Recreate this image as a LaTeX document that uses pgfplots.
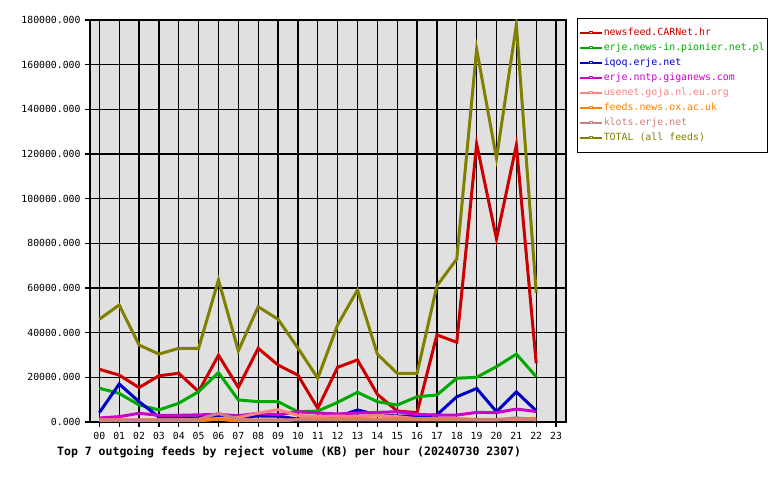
\documentclass[border=0pt]{standalone}
\usepackage{pgfplots}
\pgfplotsset{compat=1.18}
\usepackage{fontspec}
\setmainfont{DejaVu Sans Mono}
\definecolor{cRed}{RGB}{204,0,0}
\definecolor{cGreen}{RGB}{0,170,0}
\definecolor{cBlue}{RGB}{0,0,204}
\definecolor{cMag}{RGB}{204,0,204}
\definecolor{cSalmon}{RGB}{255,128,128}
\definecolor{cOrange}{RGB}{255,128,0}
\definecolor{cKlots}{RGB}{200,128,128}
\definecolor{cOlive}{RGB}{128,128,0}
\definecolor{cBg}{RGB}{224,224,224}
\begin{document}
\begin{tikzpicture}
\useasboundingbox (0,0) rectangle (780bp,480bp);
\begin{axis}[
  at={(90bp,58bp)}, anchor=south west,
  scale only axis, width=476bp, height=402bp,
  xmin=-0.47, xmax=23.5, ymin=0, ymax=180000,
  axis background/.style={fill=cBg},
  axis line style={line width=1.5bp},
  xtick={0,...,23},
  xticklabels={00,01,02,03,04,05,06,07,08,09,10,11,12,13,14,15,16,17,18,19,20,21,22,23},
  ytick={0,20000,...,180000},
  scaled y ticks=false,
  /pgf/number format/fixed, /pgf/number format/fixed zerofill,
  /pgf/number format/precision=3, /pgf/number format/1000 sep={},
  /pgf/number format/assume math mode=true,
  tick label style={font=\fontsize{9.8bp}{11bp}\selectfont},
  tick align=outside, major tick length=5bp,
  tick style={line width=1.2bp, black},
  xtick pos=bottom, ytick pos=left,
  grid=major, grid style={line width=1.3bp, black},
  xticklabel style={yshift=-2bp},
  yticklabel style={xshift=-1bp},
  legend cell align=left,
  legend style={at={(1.023,1.005)}, anchor=north west, draw=black, line width=1.2bp,
    font=\fontsize{9.9bp}{11bp}\selectfont, inner xsep=2bp, inner ysep=7bp,
    nodes={inner sep=1bp, text height=9bp, text depth=4bp}, row sep=0bp},
  legend image code/.code={\draw[#1, line width=1.2bp] (0bp,0bp) -- (22bp,0bp);
    \draw[#1, line width=0.8bp, fill=white] (9.5bp,-0.5bp) rectangle (12.5bp,2bp);},
  every axis plot/.append style={line width=3bp, mark=none},
]
\addplot[cRed] coordinates {(0,23600)(1,21000)(2,15400)(3,20700)(4,21800)(5,13600)(6,29900)(7,15500)(8,33000)(9,25500)(10,21000)(11,6100)(12,24500)(13,27800)(14,12400)(15,4900)(16,4200)(17,39000)(18,35700)(19,124500)(20,82000)(21,124000)(22,26300)};
\addlegendentry{\textcolor{cRed}{newsfeed.CARNet.hr}}
\addplot[cGreen] coordinates {(0,15100)(1,12800)(2,7600)(3,5400)(4,8400)(5,13600)(6,22100)(7,9900)(8,9100)(9,9100)(10,4600)(11,4900)(12,8800)(13,13300)(14,9100)(15,7600)(16,11300)(17,12100)(18,19600)(19,20000)(20,24800)(21,30400)(22,20300)};
\addlegendentry{\textcolor{cGreen}{erje.news-in.pionier.net.pl}}
\addplot[cBlue] coordinates {(0,4200)(1,17000)(2,9100)(3,2200)(4,1900)(5,1900)(6,2000)(7,2000)(8,2700)(9,2600)(10,1300)(11,1300)(12,2400)(13,5400)(14,3200)(15,2700)(16,2500)(17,3200)(18,11300)(19,15000)(20,4600)(21,13500)(22,5000)};
\addlegendentry{\textcolor{cBlue}{iqoq.erje.net}}
\addplot[cMag] coordinates {(0,1800)(1,2400)(2,3900)(3,3000)(4,3000)(5,3200)(6,3400)(7,2800)(8,3900)(9,3300)(10,4600)(11,4000)(12,3600)(13,4000)(14,4300)(15,4600)(16,3400)(17,3100)(18,3100)(19,4300)(20,4200)(21,5800)(22,4700)};
\addlegendentry{\textcolor{cMag}{erje.nntp.giganews.com}}
\addplot[cSalmon] coordinates {(0,1000)(1,1000)(2,1000)(3,1000)(4,1000)(5,1200)(6,1500)(7,2000)(8,4000)(9,5500)(10,3000)(11,2400)(12,2700)(13,2400)(14,3000)(15,2400)(16,1500)(17,1200)(18,1200)(19,1000)(20,1000)(21,1200)(22,1000)};
\addlegendentry{\textcolor{cSalmon}{usenet.goja.nl.eu.org}}
\addplot[cOrange] coordinates {(0,200)(1,200)(2,200)(3,200)(4,200)(5,500)(6,1300)(7,300)(8,200)(9,200)(10,1200)(11,1300)(12,1500)(13,1500)(14,1300)(15,1500)(16,1500)(17,1500)(18,1500)(19,1200)(20,1200)(21,1500)(22,1500)};
\addlegendentry{\textcolor{cOrange}{feeds.news.ox.ac.uk}}
\addplot[cKlots] coordinates {(0,900)(1,900)(2,900)(3,900)(4,900)(5,1200)(6,3900)(7,1200)(8,900)(9,900)(10,900)(11,900)(12,900)(13,900)(14,900)(15,900)(16,900)(17,900)(18,900)(19,900)(20,900)(21,1900)(22,900)};
\addlegendentry{\textcolor{cKlots}{klots.erje.net}}
\addplot[cOlive] coordinates {(0,46000)(1,52400)(2,34500)(3,30400)(4,33000)(5,33000)(6,63600)(7,31900)(8,51600)(9,46000)(10,33100)(11,19600)(12,43500)(13,59100)(14,30400)(15,21800)(16,21800)(17,61000)(18,73000)(19,166900)(20,118100)(21,177800)(22,57900)};
\addlegendentry{\textcolor{cOlive}{TOTAL (all feeds)}}
\end{axis}
\node[anchor=base west, font=\bfseries\fontsize{11.5bp}{14bp}\selectfont, inner sep=0pt] at (57bp,25bp) {Top 7 outgoing feeds by reject volume (KB) per hour (20240730 2307)};
\end{tikzpicture}
\end{document}
